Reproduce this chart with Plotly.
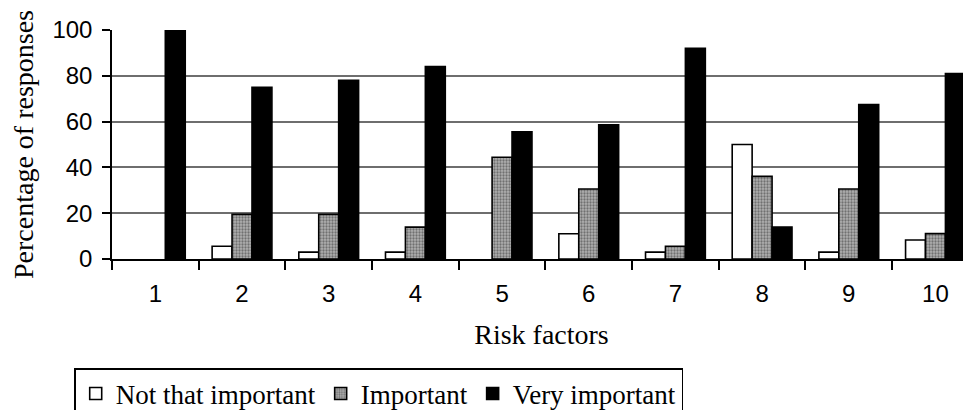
import plotly.graph_objects as go

categories = ["1", "2", "3", "4", "5", "6", "7", "8", "9", "10"]
not_that_important = [0, 5.6, 3, 3, 0, 11, 3, 50, 3, 8.3]
important = [0, 19.5, 19.5, 13.9, 44.4, 30.6, 5.6, 36.1, 30.6, 11.1]
very_important = [100, 75, 78, 84, 55.6, 58.6, 92, 14, 67.5, 81]

y_ticks = [0, 20, 40, 60, 80, 100]


def hide_zero(values):
    # zero-height bars are not drawn in the reference
    return [v if v > 0 else None for v in values]


fig = go.Figure()
fig.add_trace(go.Bar(
    x=categories, y=hide_zero(not_that_important), name="Not that important",
    marker=dict(color="white", line=dict(color="black", width=1.6)),
))
fig.add_trace(go.Bar(
    x=categories, y=hide_zero(important), name="Important",
    marker=dict(color="#9a9a9a", line=dict(color="black", width=1.6),
                pattern=dict(shape=".", fgcolor="#303030", bgcolor="#b0b0b0",
                             size=3, solidity=0.45)),
))
fig.add_trace(go.Bar(
    x=categories, y=hide_zero(very_important), name="Very important",
    marker=dict(color="black", line=dict(color="black", width=1.6)),
))

fig.update_layout(
    width=971, height=410,
    margin=dict(l=104, r=8, t=22, b=159, autoexpand=False),
    plot_bgcolor="white", paper_bgcolor="white",
    barmode="group", bargap=0.31, bargroupgap=0,
    showlegend=True,
    legend=dict(
        orientation="h", x=-0.044, y=-0.476, xanchor="left", yanchor="top",
        bordercolor="black", borderwidth=1.5,
        font=dict(family="Liberation Serif", size=27, color="black"),
        tracegroupgap=0,
    ),
    xaxis=dict(
        type="category", range=[-0.5, 9.41], automargin=False,
        showline=True, linecolor="black", linewidth=1.5,
        ticks="outside", tickson="boundaries", ticklen=9, tickwidth=1.5, tickcolor="black",
        showgrid=False,
        ticklabelstandoff=12,
        tickfont=dict(family="Liberation Sans", size=24, color="black"),
        title=dict(text="Risk factors", standoff=19,
                   font=dict(family="Liberation Serif", size=28, color="black")),
    ),
    yaxis=dict(
        range=[0, 100], tickvals=y_ticks, automargin=False,
        showline=True, linecolor="black", linewidth=1.5,
        ticks="outside", ticklen=8, tickwidth=1.5, tickcolor="black",
        showgrid=True, gridcolor="#6e6e6e", gridwidth=1.5,
        zeroline=False,
        ticklabelstandoff=5,
        tickfont=dict(family="Liberation Sans", size=24, color="black"),
        title=dict(text="Percentage of responses", standoff=15,
                   font=dict(family="Liberation Serif", size=28, color="black")),
    ),
)

fig.write_html("out.html")
